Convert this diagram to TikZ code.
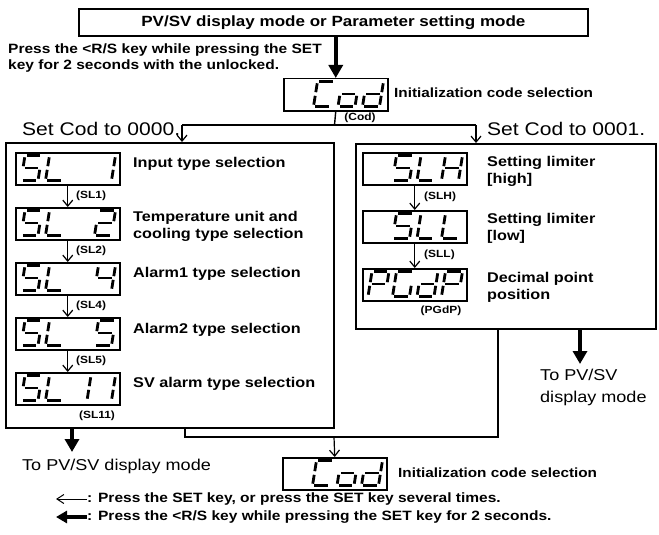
\documentclass[tikz,border=0pt]{standalone}
\usepackage{fontspec}
\setmainfont{Liberation Sans}[FakeStretch=1.15]
\usetikzlibrary{arrows.meta}

% seven-segment glyph helpers
\newcommand\sgl[4]{\draw[seg] ({\gx+#1+0.16*(#2)},{\gy-(#2)}) -- ({\gx+#3+0.16*(#4)},{\gy-(#4)});}
\newcommand\ssga{\sgl{1.8}{25}{15.2}{25}}
\newcommand\ssgb{\sgl{17}{23.2}{17}{14.3}}
\newcommand\ssgc{\sgl{17}{10.7}{17}{1.8}}
\newcommand\ssgd{\sgl{1.8}{0}{15.2}{0}}
\newcommand\ssge{\sgl{0}{1.8}{0}{10.7}}
\newcommand\ssgf{\sgl{0}{14.3}{0}{23.2}}
\newcommand\ssgg{\sgl{1.8}{12.5}{15.2}{12.5}}
\newcommand\glyph[3]{\def\gx{#1}\def\gy{#2}\foreach \segname in {#3}{\csname ssg\segname\endcsname}}
\newcommand\showdigits[6]{%
  \glyph{#1+6}{#2-3.5}{#3}\glyph{#1+30.5}{#2-3.5}{#4}%
  \glyph{#1+55}{#2-3.5}{#5}\glyph{#1+79.5}{#2-3.5}{#6}}

\tikzset{
  frame/.style={draw, line width=1.6pt, inner sep=0pt},
  dbox/.style={draw, line width=1.5pt, minimum width=104pt, minimum height=32pt, inner sep=0pt, anchor=north west},
  seg/.style={line width=2.8pt, line cap=butt},
  lab/.style={font=\fontsize{14.1}{17}\selectfont\bfseries, inner sep=0pt, anchor=west, align=left},
  small/.style={font=\fontsize{10.4}{12}\selectfont\bfseries, inner sep=0pt},
  initlab/.style={font=\fontsize{13.3}{15}\selectfont\bfseries, inner sep=0pt, anchor=west},
  bigtxt/.style={font=\fontsize{18.3}{20}\selectfont, inner sep=0pt, anchor=west},
  modetxt/.style={font=\fontsize{15.7}{22}\selectfont, inner sep=0pt, align=left},
  legtxt/.style={font=\fontsize{13.5}{16}\selectfont\bfseries, inner sep=0pt, anchor=west},
  thinarrow/.style={line width=1.2pt, -{Straight Barb[length=6pt,width=10pt]}},
  thickarrow/.style={line width=4pt, -{Triangle[length=13pt,width=14pt]}},
  conn/.style={line width=1.4pt},
}

\begin{document}
\begin{tikzpicture}[x=1pt,y=-1pt]
\fill[white] (0,0) rectangle (659,535);
\useasboundingbox (0,0) rectangle (659,535);

% title box
\node[frame, line width=1.8pt, minimum width=509pt, minimum height=27pt, anchor=north west,
      font=\fontsize{14.8}{17}\selectfont\bfseries] (top) at (78,8)
      {PV/SV display mode or Parameter setting mode};

\node[font=\fontsize{13.5}{16}\selectfont\bfseries, align=left, anchor=west, inner sep=0pt] (press) at (8,58)
  {Press the <R/S key while pressing the SET\\key for 2 seconds with the unlocked.};

% first Cod display
\node[dbox] (cod1) at (283,78) {};
\showdigits{283}{110}{}{a,f,e,d}{g,c,d,e}{b,c,d,e,g}
\draw[thickarrow] (cod1.north |- top.south) -- (cod1.north);
\node[initlab] (init1) at (394,93) {Initialization code selection};
\node[small] (codlbl) at (360,118) {(Cod)};

% branch texts
\node[bigtxt] (set0) at (22,129) {Set Cod to 0000.};
\node[bigtxt] (set1) at (487,129) {Set Cod to 0001.};

% group boxes
\node[frame, anchor=north west, minimum width=328pt, minimum height=285pt] (lb) at (5,142) {};
\node[frame, anchor=north west, minimum width=300pt, minimum height=185pt] (rb) at (355,143) {};

% top branching connectors
\coordinate (hl) at (182,125);
\coordinate (hr) at (476,125);
\coordinate (hc) at (334.5,125);
\draw[conn] (cod1.south) -- (hc);
\draw[conn] (hl) -- (hr);
\draw[thinarrow] (hl) -- (lb.north -| hl);
\draw[thinarrow] (hr) -- (rb.north -| hr);

% left column displays
\node[dbox] (sl1) at (15,152) {};
\showdigits{15}{184}{a,f,g,c,d}{f,e,d}{}{b,c}
\node[dbox] (sl2) at (15,207) {};
\showdigits{15}{239}{a,f,g,c,d}{f,e,d}{}{a,b,g,e,d}
\node[dbox] (sl4) at (15,262) {};
\showdigits{15}{294}{a,f,g,c,d}{f,e,d}{}{f,g,b,c}
\node[dbox] (sl5) at (15,317) {};
\showdigits{15}{349}{a,f,g,c,d}{f,e,d}{}{a,f,g,c,d}
\node[dbox] (sl11) at (15,372) {};
\showdigits{15}{404}{a,f,g,c,d}{f,e,d}{b,c}{b,c}

\draw[thinarrow] (sl1.south) -- (sl2.north);
\draw[thinarrow] (sl2.south) -- (sl4.north);
\draw[thinarrow] (sl4.south) -- (sl5.north);
\draw[thinarrow] (sl5.south) -- (sl11.north);

\node[small, anchor=west] (l1) at (76,196) {(SL1)};
\node[small, anchor=west] (l2) at (76,251) {(SL2)};
\node[small, anchor=west] (l4) at (76,306) {(SL4)};
\node[small, anchor=west] (l5) at (76,361) {(SL5)};
\node[small] (l11) at (97,416) {(SL11)};

\node[lab] (t1) at (133,164) {Input type selection};
\node[lab] (t2) at (133,226) {Temperature unit and\\cooling type selection};
\node[lab] (t4) at (133,274) {Alarm1 type selection};
\node[lab] (t5) at (133,330) {Alarm2 type selection};
\node[lab] (t11) at (133,384) {SV alarm type selection};

% right column displays
\node[dbox] (slh) at (362,152) {};
\showdigits{362}{184}{}{a,f,g,c,d}{f,e,d}{f,e,g,b,c}
\node[dbox] (sll) at (362,210) {};
\showdigits{362}{242}{}{a,f,g,c,d}{f,e,d}{f,e,d}
\node[dbox] (pgdp) at (362,268) {};
\showdigits{362}{300}{a,b,f,g,e}{a,f,e,d,c}{b,c,d,e,g}{a,b,f,g,e}

\draw[thinarrow] (slh.south) -- (sll.north);
\draw[thinarrow] (sll.south) -- (pgdp.north);

\node[small, anchor=west] (lh) at (424,197) {(SLH)};
\node[small, anchor=west] (ll) at (424,255) {(SLL)};
\node[small] (lp) at (441,311) {(PGdP)};

\node[lab] (rh) at (487,171) {Setting limiter\\{[high]}};
\node[lab] (rl) at (487,228) {Setting limiter\\{[low]}};
\node[lab] (rp) at (487,287) {Decimal point\\position};

% exits of the right box
\node[modetxt, anchor=north west] (toR) at (540,369) {To PV/SV\\display mode};
\coordinate (rat) at (580,364);
\draw[thickarrow] (rb.south -| rat) -- (rat);

% joining connector to the second Cod display
\node[dbox] (cod2) at (282,457) {};
\showdigits{282}{489}{}{a,f,e,d}{g,c,d,e}{b,c,d,e,g}
\node[initlab] (init2) at (398,473) {Initialization code selection};
\coordinate (j1) at (185,437);
\coordinate (j2) at (498,437);
\coordinate (jm) at (334,437);
\draw[conn] (lb.south -| j1) -- (j1) -- (j2) -- (rb.south -| j2);
\draw[thinarrow] (jm) -- (cod2.north);

% exit of the left box
\coordinate (lat) at (72,452);
\draw[thickarrow] (lb.south -| lat) -- (lat);
\node[modetxt, anchor=west] (toL) at (22,466) {To PV/SV display mode};

% legend
\node[legtxt] (leg1) at (87,499) {: Press the SET key, or press the SET key several times.};
\node[legtxt] (leg2) at (87,517) {: Press the <R/S key while pressing the SET key for 2 seconds.};
\coordinate (e1) at (56,499);
\coordinate (e2) at (56,517);
\draw[line width=1pt, -{Straight Barb[length=7pt,width=9pt]}] (leg1.west) -- (e1);
\draw[line width=3.5pt, -{Triangle[length=11pt,width=12pt]}] (leg2.west) -- (e2);
\end{tikzpicture}
\end{document}
